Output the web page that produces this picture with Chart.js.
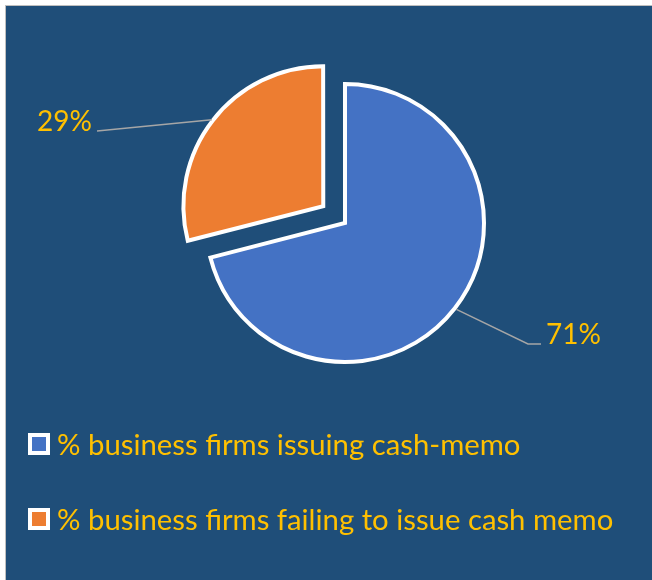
<!DOCTYPE html>
<html>
<head>
<meta charset="utf-8">
<script src="https://cdn.jsdelivr.net/npm/chart.js@4.4.1/dist/chart.umd.min.js"></script>
<style>
html,body{margin:0;padding:0;background:#fff;overflow:hidden;}
#frame{position:absolute;left:5px;top:5px;width:647px;height:575px;background:#1F4E79;border-top:1px solid #BFBFBF;border-left:1px solid #BFBFBF;box-sizing:border-box;}
#chart{position:absolute;left:0;top:0;}
#legend{position:absolute;left:0;top:0;margin:0;padding:0;list-style:none;font-family:Lato,sans-serif;font-size:29.3px;color:#FFC000;}
#legend li{position:absolute;left:28px;height:22px;line-height:22px;display:flex;align-items:center;white-space:nowrap;}
#legend .box{display:inline-block;width:14px;height:14px;border:4px solid #fff;margin-right:7px;flex:none;}
</style>
</head>
<body>
<div id="frame"></div>
<canvas id="chart" width="652" height="580"></canvas>
<ul id="legend"></ul>
<script>
// data
const categories = ['% business firms issuing cash-memo', '% business firms failing to issue cash memo'];
const shares = [71, 29];

// leader lines + value labels, like the Excel data labels
const leaderLabels = {
    id: 'leaderLabels',
    afterDatasetsDraw(chart, args, opts){
        const ctx = chart.ctx;
        const arcs = chart.getDatasetMeta(0).data;
        ctx.save();
        ctx.lineWidth = 1.5;
        ctx.strokeStyle = opts.lineColor;
        ctx.fillStyle = opts.color;
        ctx.font = opts.font;
        ctx.textBaseline = 'alphabetic';
        arcs.forEach((arc, i)=>{
            const p = arc.getProps(['x','y','startAngle','endAngle','outerRadius'], true);
            const mid = (p.startAngle + p.endAngle)/2;
            const shift = (arc.options.offset || 0)/4;
            const cx = p.x + Math.cos(mid)*shift;
            const cy = p.y + Math.sin(mid)*shift;
            const sx = cx + Math.cos(mid)*(p.outerRadius + 2);
            const sy = cy + Math.sin(mid)*(p.outerRadius + 2);
            const a = opts.anchors[i];
            const ex = p.x + a.x, ey = p.y + a.y;
            const dir = a.side === 'right' ? 1 : -1;
            ctx.beginPath();
            ctx.moveTo(sx, sy);
            ctx.lineTo(ex, ey);
            ctx.lineTo(ex + dir*a.tail, ey);
            ctx.stroke();
            ctx.textAlign = a.side === 'right' ? 'left' : 'right';
            ctx.fillText(chart.data.datasets[0].data[i] + '%', ex + dir*(a.tail + 5), ey);
        });
        ctx.restore();
    }
};

const chart = new Chart(document.getElementById('chart'), {
    type: 'pie',
    data: {
        labels: categories,
        datasets: [{
            data: shares,
            backgroundColor: ['#4472C4', '#ED7D31'],
            borderColor: '#FFFFFF',
            borderWidth: 4,
            borderJoinStyle: 'miter',
            offset: [0, 110]
        }]
    },
    options: {
        responsive: false,
        animation: false,
        radius: 139,
        layout: {padding: {left: 38, right: 0, top: 0, bottom: 134}},
        plugins: {
            legend: {display: false},
            tooltip: {enabled: false},
            leaderLabels: {
                color: '#FFC000',
                lineColor: '#A6A6A6',
                font: '28px Lato',
                anchors: [
                    {x: 183, y: 121, tail: 13, side: 'right'},
                    {x: -248, y: -92, tail: 0, side: 'left'}
                ]
            }
        }
    },
    plugins: [leaderLabels]
});

// html legend built from the chart's own legend items
const legendTop = 433, legendGap = 75;
let ul = document.getElementById('legend');
chart.options.plugins.legend.labels.generateLabels(chart).forEach((item, i)=>{
    let li = document.createElement('li');
    li.style.top = (legendTop + i*legendGap) + 'px';
    li.innerHTML = `<span class="box" style="background:${item.fillStyle}"></span><span>${item.text}</span>`;
    ul.appendChild(li);
});
</script>
</body>
</html>
